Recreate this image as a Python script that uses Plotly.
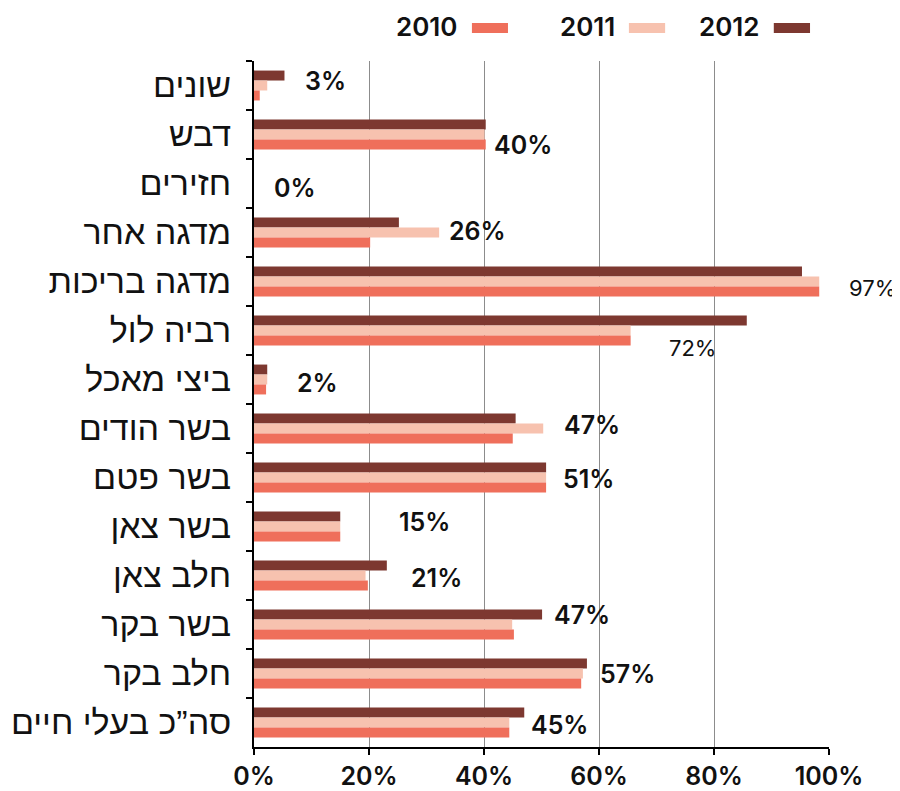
import plotly.graph_objects as go

categories = ["שונים", "דבש", "חזירים", "מדגה אחר", "מדגה בריכות", "רביה לול", "ביצי מאכל",
              "בשר הודים", "בשר פטם", "בשר צאן", "חלב צאן", "בשר בקר", "חלב בקר", "סה”כ בעלי חיים"]
years = ["2010", "2011", "2012"]
v2010 = [1.0, 40.3, 0, 20.2, 98.3, 65.5, 2.1, 45.0, 50.8, 15.0, 19.8, 45.2, 56.9, 44.4]
v2011 = [2.3, 40.1, 0, 32.2, 98.3, 65.5, 2.3, 50.3, 50.8, 15.0, 19.4, 44.9, 57.2, 44.4]
v2012 = [5.3, 40.3, 0, 25.2, 95.3, 85.7, 2.3, 45.5, 50.8, 15.0, 23.1, 50.1, 57.9, 47.0]
labels = ["3%", "40%", "0%", "26%", "97%", "72%", "2%", "47%", "51%", "15%", "21%", "47%", "57%", "45%"]
xticks = [0, 20, 40, 60, 80, 100]

# placement of the value labels (layout only, fraction of plot width)
label_x = [0.125, 0.468, 0.071, 0.388, 1.075, 0.762, 0.110, 0.588, 0.581, 0.296, 0.317, 0.570, 0.650, 0.532]
label_dy = [5, -10, -4, 2, -6, -17, -3, 4, -1, 5, -2, 10, 0, -2]
label_small = [False, False, False, False, True, True, False, False, False, False, False, False, False, False]

colors = {"2010": "#EF6F5B", "2011": "#F7C2AF", "2012": "#7D3830"}
values = {"2010": v2010, "2011": v2011, "2012": v2012}

FONT = "Inter"

fig = go.Figure()
for yr in ["2012", "2011", "2010"]:
    fig.add_trace(go.Bar(
        y=categories, x=values[yr], name=yr, orientation="h",
        marker=dict(color=colors[yr], line=dict(width=0)),
        showlegend=False, hoverinfo="x+y+name"))

annotations = []
for cat, txt, lx, dy, small in zip(categories, labels, label_x, label_dy, label_small):
    annotations.append(dict(
        x=lx, y=cat, xref="paper", yref="y", text=txt, showarrow=False,
        xanchor="center", yanchor="middle", yshift=dy,
        font=dict(family=FONT, size=22 if small else 25, color="#111",
                  weight=400 if small else 600)))

# custom legend: text followed by swatch
leg_text_right = [0.3583, 0.6313, 0.8835]
leg_sw = [(0.379, 0.4417), (0.652, 0.715), (0.904, 0.967)]
shapes = []
for yr, tr, (s0, s1) in zip(years, leg_text_right, leg_sw):
    annotations.append(dict(
        x=tr, y=1.0496, xref="paper", yref="paper", text=yr, showarrow=False,
        xanchor="right", yanchor="middle",
        font=dict(family=FONT, size=26, color="#111", weight=600)))
    shapes.append(dict(type="rect", xref="paper", yref="paper",
                       x0=s0, x1=s1, y0=1.0408, y1=1.0554,
                       fillcolor=colors[yr], line=dict(width=0)))

# page body has an 8px margin, so the figure is shrunk by 8px
fig.update_layout(
    width=892, height=783,
    margin=dict(l=246, r=71, t=53, b=44, autoexpand=False),
    paper_bgcolor="white", plot_bgcolor="white",
    barmode="group", bargap=0.39, bargroupgap=0,
    annotations=annotations, shapes=shapes,
    showlegend=False,
    xaxis=dict(range=[0, 100], tickvals=xticks, ticktext=[f"{t}%" for t in xticks],
               showgrid=True, gridcolor="#8c8c8c", gridwidth=1,
               showline=True, linecolor="black", linewidth=2,
               ticks="outside", ticklen=6, tickwidth=2, tickcolor="black",
               tickfont=dict(family=FONT, size=25, color="#111", weight=600),
               zeroline=False, fixedrange=True, automargin=False),
    yaxis=dict(autorange="reversed", tickson="boundaries",
               showline=True, linecolor="black", linewidth=2,
               ticks="outside", ticklen=6, tickwidth=2, tickcolor="black",
               tickfont=dict(family="Liberation Sans", size=34, color="#111"),
               ticklabelstandoff=14, showgrid=False, fixedrange=True, automargin=False),
)

fig.write_html("out.html")
